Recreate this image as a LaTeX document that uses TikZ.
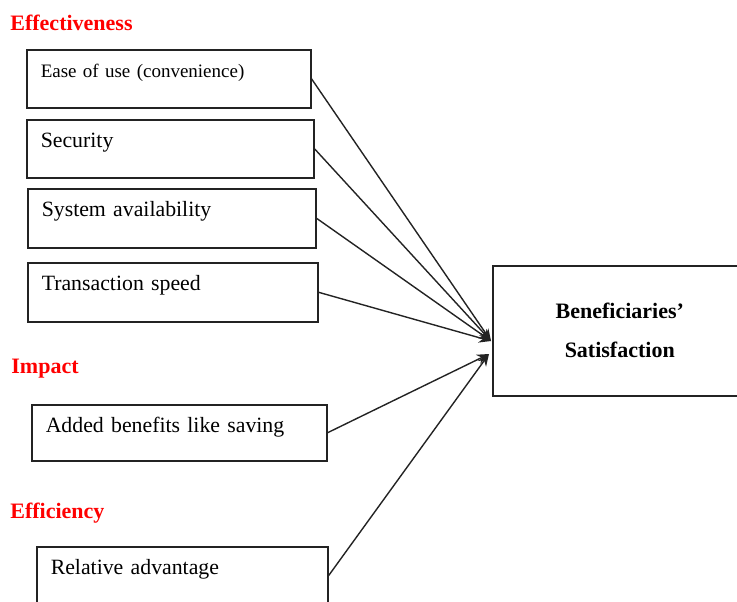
\documentclass[tikz,border=0pt]{standalone}
\usepackage{fontspec}
\setmainfont{Liberation Serif}
\usepackage{xcolor}
\usepackage{tikz}
\usetikzlibrary{arrows.meta,positioning}
\definecolor{HeadRed}{RGB}{255,0,0}
\definecolor{LineGray}{RGB}{35,35,35}
\tikzset{
  lbox/.style={draw=LineGray,line width=0.75pt,anchor=north west,inner xsep=7pt,inner ysep=0pt,text height=13.7pt,text depth=15.3pt,align=left,font=\fontsize{10.9}{13}\selectfont},
  sbox/.style={draw=LineGray,line width=0.75pt,anchor=north west,minimum width=127pt,minimum height=65pt,align=center,font=\fontsize{11}{19.5}\selectfont\bfseries},
  hdr/.style={anchor=base west,inner sep=0pt,text=HeadRed,font=\fontsize{11}{12}\selectfont\bfseries},
  arr/.style={-{Stealth[length=6pt,width=5pt]},LineGray,line width=0.7pt},
}

\begin{document}
\begin{tikzpicture}[x=0.5pt,y=-0.5pt]
  \useasboundingbox (0,0) rectangle (737,601);
  \clip (0,0) rectangle (737,601);
  % effectiveness group
  \node[hdr] (effect) at (10,30) {Effectiveness};
  \node[lbox,text width=128pt,font=\fontsize{9.5}{12}\selectfont] (ease) at (26,49) {Ease of use (convenience)};
  \node[lbox,text width=129.5pt] (secur) at (26,119) {Security};
  \node[lbox,text width=130pt,text depth=15.8pt] (avail) at (27,188) {System availability};
  \node[lbox,text width=131pt,text depth=15.8pt] (speed) at (27,262) {Transaction speed};
  % impact group
  \node[hdr] (impact) at (11,373) {Impact};
  \node[lbox,text width=133.5pt,text depth=14.3pt] (benef) at (31,404) {Added benefits like saving};
  % efficiency group
  \node[hdr] (effic) at (10,518) {Efficiency};
  \node[lbox,text width=131.5pt] (relad) at (36,546) {Relative advantage};
  % outcome
  \node[sbox] (satis) at (492,265) {Beneficiaries'\\Satisfaction};
  \coordinate (in1) at (491,341);
  \coordinate (in2) at (489,354);
  \draw[arr] (ease.east) -- (in1); \draw[arr] (secur.east) -- (in1);
  \draw[arr] (avail.east) -- (in1); \draw[arr] (speed.east) -- (in1);
  \draw[arr] (benef.east) -- (in2); \draw[arr] (relad.east) -- (in2);
\end{tikzpicture}
\end{document}
